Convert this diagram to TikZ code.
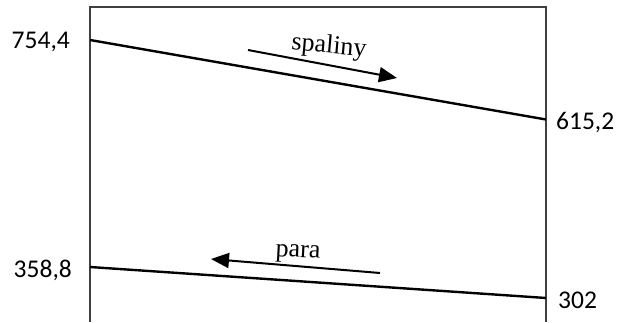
\documentclass[tikz,border=0pt]{standalone}
\usepackage{fontspec}
\setmainfont{Liberation Serif}
\newfontfamily\numfont{Carlito}
\usetikzlibrary{arrows.meta}
\begin{document}
\begin{tikzpicture}[x=1pt,y=1pt,
  frame/.style={draw=black!75,line width=1.3pt},
  stream/.style={draw=black,line width=2.4pt},
  flow/.style={draw=black,line width=2pt,-{Triangle[length=18pt,width=15pt]}},
  num/.style={font=\numfont\fontsize{25.5}{28}\selectfont,inner sep=0pt},
  lbl/.style={font=\fontsize{26}{30}\selectfont,inner sep=0pt}]
\useasboundingbox (0,0) rectangle (624,322);
% frame
\coordinate (fbl) at (90,0);
\coordinate (ftl) at (90,315);
\coordinate (ftr) at (546,315);
\coordinate (fbr) at (546,0);
\draw[frame] (fbl) -- (ftl) -- (ftr) -- (fbr);
% streams
\coordinate (s1) at (90,282);
\coordinate (s2) at (546,202.5);
\coordinate (p1) at (90,55);
\coordinate (p2) at (546,24);
\draw[stream] (s1) -- (s2);
\draw[stream] (p1) -- (p2);
% arrows
\coordinate (a1) at (248,272);
\coordinate (a2) at (397,244);
\coordinate (b1) at (380,49);
\coordinate (b2) at (211,63);
\draw[flow] (a1) -- (a2);
\draw[flow] (b1) -- (b2);
\node[lbl,rotate=-5] (tsp) at (329,275) {spaliny};
\node[lbl,rotate=-3] (tpa) at (298,68) {para};
% numbers
\node[num,anchor=east] (n1) at (70,280) {754,4};
\node[num,anchor=west] (n2) at (556,199) {615,2};
\node[num,anchor=east] (n3) at (72,52) {358,8};
\node[num,anchor=west] (n4) at (558,22) {302};
\end{tikzpicture}
\end{document}
